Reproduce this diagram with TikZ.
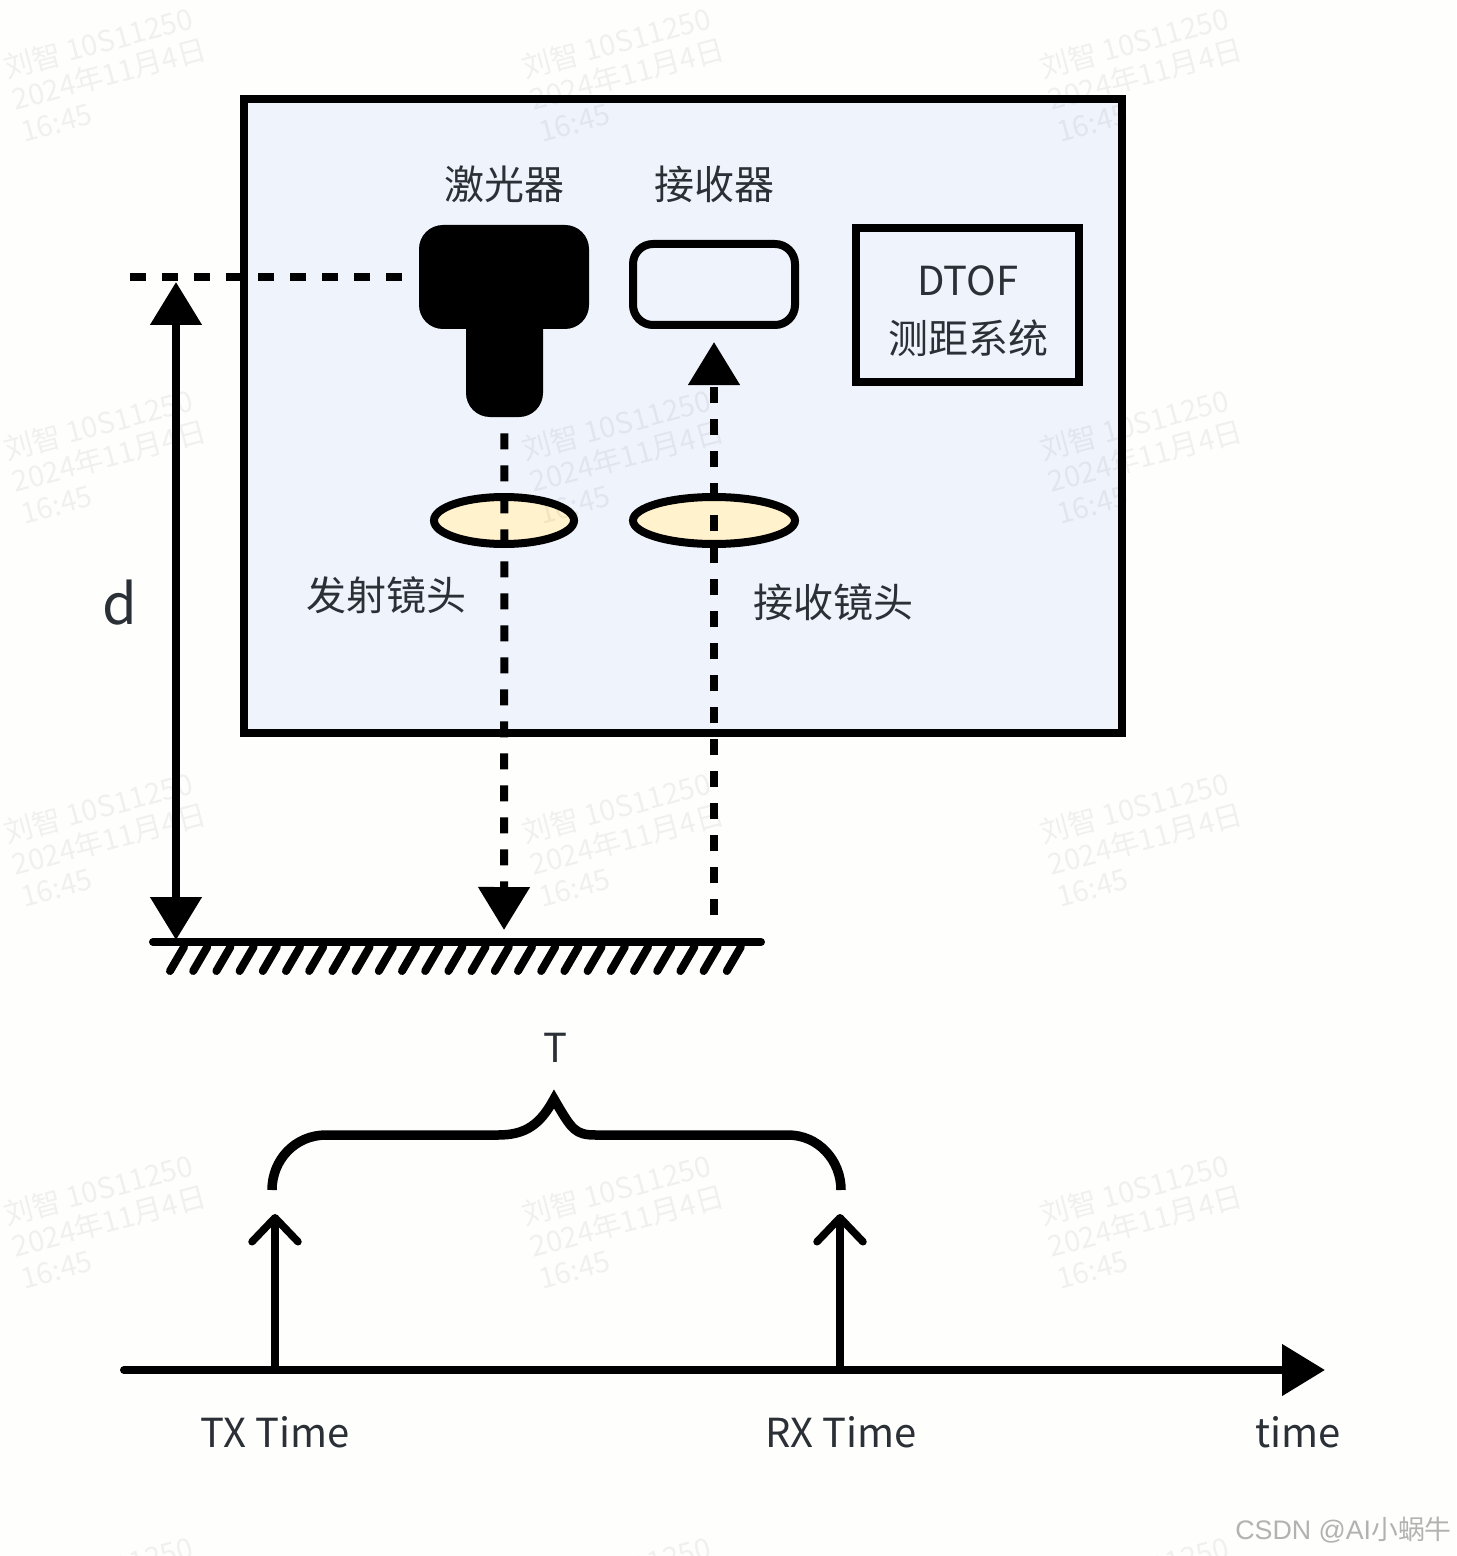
\documentclass[tikz,border=0pt]{standalone}
\usepackage{fontspec}
\setmainfont{Noto Sans CJK SC}
\newfontfamily\csdnfont{Liberation Sans}
\usetikzlibrary{shapes.geometric, arrows.meta, positioning}
\definecolor{panelblue}{HTML}{EFF3FC}
\definecolor{lensyellow}{HTML}{FFF2CC}
\definecolor{inkgray}{HTML}{2B2F36}
\definecolor{pagewhite}{HTML}{FEFEFD}
\tikzset{
    base/.style = {
        draw=black, rectangle, inner sep=0pt, text centered
    },
    % Components
    panel/.style    = {base, line width=4pt, fill=panelblue, minimum width=439pt, minimum height=317pt},
    laser/.style    = {base, draw=none, fill=black, rounded corners=12pt},
    sensor/.style   = {base, line width=4pt, fill=panelblue, rounded corners=10pt, minimum width=81pt, minimum height=40.5pt},
    lens/.style     = {base, ellipse, line width=4pt, fill=lensyellow, minimum height=23.5pt},
    tofbox/.style   = {base, line width=4pt, fill=panelblue, minimum width=111.5pt, minimum height=77pt},
    % Edges and annotations
    solidtip/.style = {>={Triangle[length=21.5pt,width=25pt]}},
    beam/.style     = {solidtip, line width=4pt, dash pattern=on 8pt off 8pt, ->},
    rule/.style     = {solidtip, line width=4pt},
    pulse/.style    = {line width=3.75pt, -{Straight Barb[length=12pt,width=23pt,round]}},
    label/.style    = {font=\fontsize{20}{24}\selectfont, text=inkgray, inner sep=0pt},
    stamp/.style    = {font=\fontsize{14.5}{16.5}\selectfont, text=black, opacity=0.055, align=left, rotate=15, inner sep=0pt}
}

\begin{document}
\begin{tikzpicture}[x=0.5pt, y=-0.5pt]
    \useasboundingbox (0,0) rectangle (1456,1556);
    \clip (0,0) rectangle (1456,1556);
    \fill [pagewhite] (0,0) rectangle (1456,1556);

    % Device housing and its parts
    \node (panel) [panel] at (683,416) {};
    \node (emitter) [label] at (504,184) {激光器};
    \node (receiver) [label] at (714,184) {接收器};
    \node (laserhead) [laser, minimum width=85pt, minimum height=52pt] at (504,277) {};
    \node (laserstem) [laser, minimum width=38.5pt, minimum height=58.5pt] at (504.5,358.5) {};
    \node (sensor) [sensor] at (714,284.5) {};
    \node (tofbox) [tofbox] at (967.5,305) {};
    \node (toftext) [label, align=center, font=\fontsize{20}{29}\selectfont] at (968,311) {DTOF\\测距系统};

    % Lenses
    \node (txlens) [lens, minimum width=70pt] at (504,520.5) {};
    \node (rxlens) [lens, minimum width=81pt] at (714,520.5) {};
    \node (txlabel) [label] at (386,595) {发射镜头};
    \node (rxlabel) [label] at (833,602) {接收镜头};

    % Ground under the device
    \coordinate (groundleft) at (153,942);
    \coordinate (groundright) at (761,942);
    \coordinate (txhit) at (504,930);
    \coordinate (rxhit) at (714,915);
    \draw [line width=4pt, line cap=round] (groundleft) -- (groundright);
    \foreach \hatch in {0,...,24} {
        \draw [line width=4pt, line cap=round] (170+23.2*\hatch,971) -- (184+23.2*\hatch,947);
    }

    % Light path
    \draw [beam, shorten <=8pt] (laserstem.south) -- (txhit);
    \draw [beam, shorten >=6.5pt] (rxhit) -- (sensor.south);

    % Distance d
    \coordinate (levelstart) at (130,277);
    \coordinate (levelend) at (404,277);
    \coordinate (dtop) at (176,282);
    \coordinate (dbottom) at (176,940);
    \draw [line width=4pt, dash pattern=on 8pt off 8pt] (levelstart) -- (levelend);
    \draw [rule, <->] (dtop) -- (dbottom);
    \node (dlabel) [label, font=\fontsize{28}{32}\selectfont] at (120,603) {d};

    % Time axis
    \coordinate (axisstart) at (124,1370);
    \coordinate (axisend) at (1325,1370);
    \coordinate (txbase) at (275,1370);
    \coordinate (rxbase) at (840,1370);
    \coordinate (txtip) at (275,1214);
    \coordinate (rxtip) at (840,1214);
    \draw [rule, ->, line cap=round] (axisstart) -- (axisend);
    \draw [pulse] (txbase) -- (txtip);
    \draw [pulse] (rxbase) -- (rxtip);
    \node (txtime) [label] at (275,1432) {TX Time};
    \node (rxtime) [label] at (841,1432) {RX Time};
    \node (timelabel) [label] at (1298,1432) {time};

    % Brace over the interval
    \coordinate (braceleft) at (272,1190);
    \coordinate (braceright) at (841,1190);
    \coordinate (bracepeak) at (554,1099);
    \draw [line width=4.75pt, miter limit=10]
        (braceleft) .. controls (272,1160) and (295,1135) .. (326,1135)
        -- (498,1135) .. controls (525,1135) and (540,1125) .. (bracepeak)
        .. controls (572,1130) and (575,1135) .. (596,1135)
        -- (788,1135) .. controls (818,1135) and (841,1160) .. (braceright);
    \node (period) [label] at (555,1048) {T};

    % Watermarks
    \foreach \col/\xpos in {a/109,b/627,c/1145} {
        \foreach \row/\ypos in {1/73,2/455,3/838,4/1220,5/1602} {
            \node (wm-\col\row) [stamp] at (\xpos,\ypos) {刘智 10S11250\\2024年11月4日\\16:45};
        }
    }
    \node (csdn) [anchor=east, inner sep=0pt, text=black!30, font=\fontsize{13.4}{16}\selectfont] at (1452,1530) {{\csdnfont CSDN @AI}小蜗牛};
\end{tikzpicture}
\end{document}
